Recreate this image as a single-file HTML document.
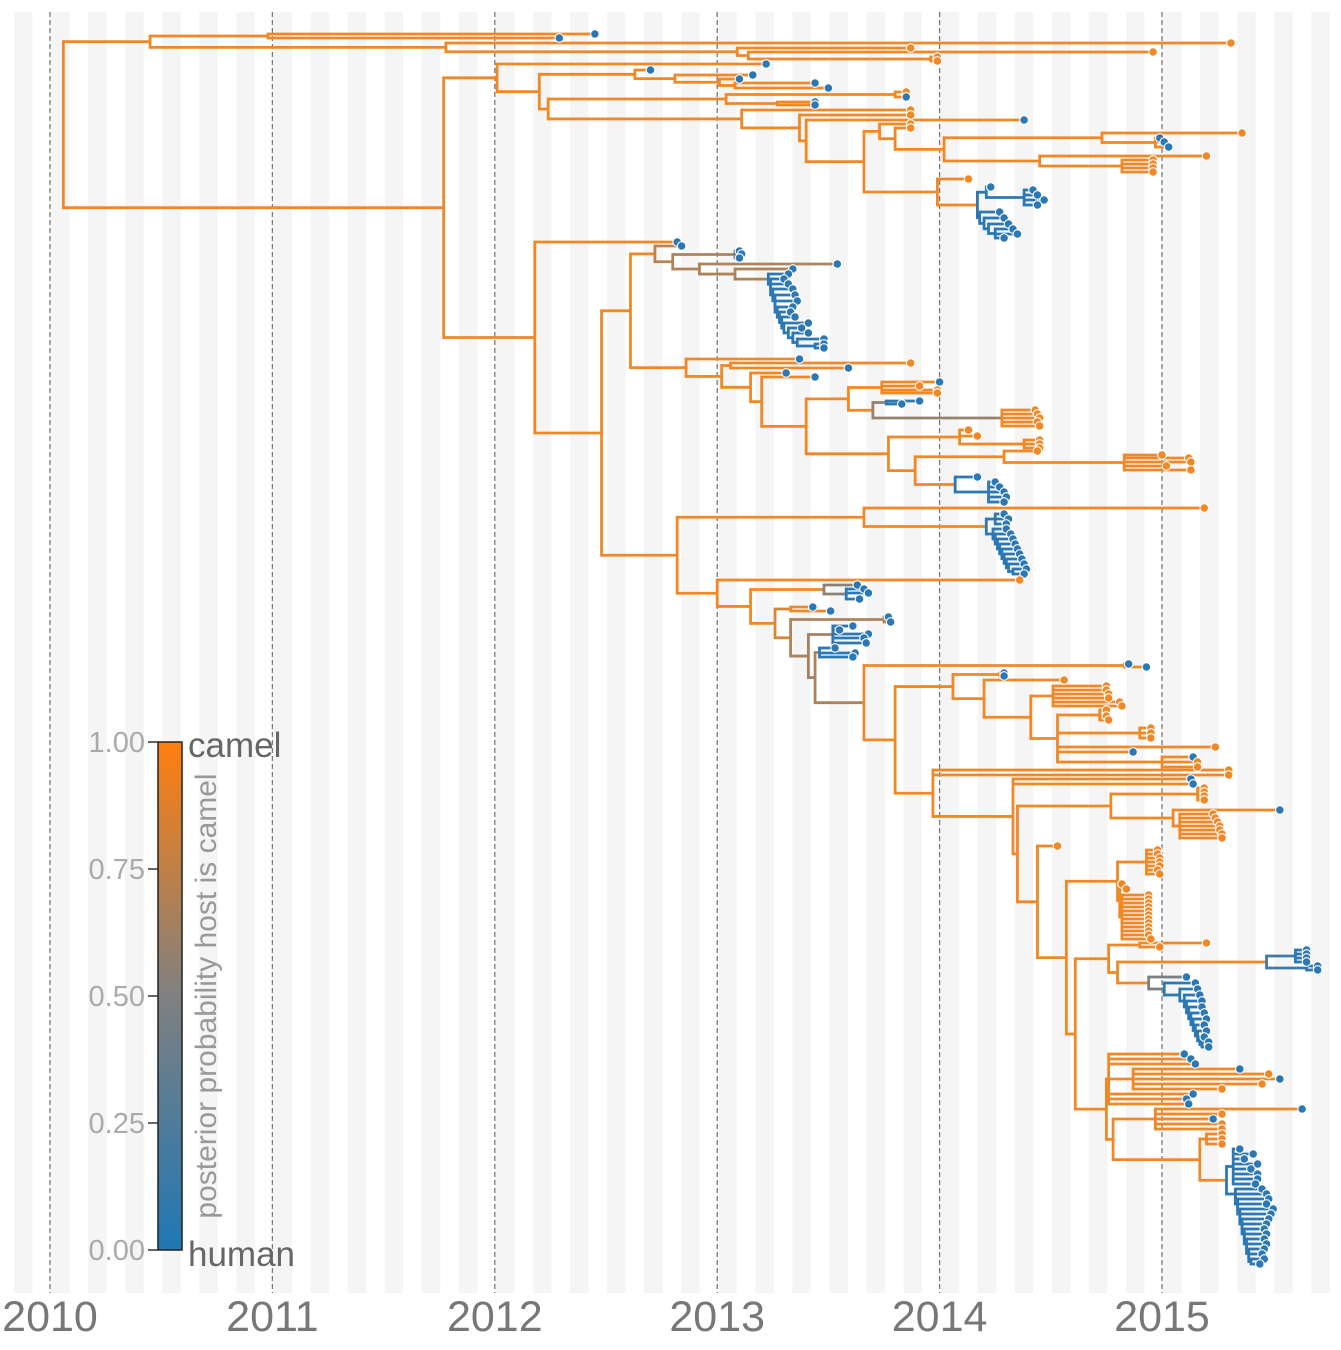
<!DOCTYPE html>
<html><head><meta charset="utf-8">
<style>
html,body{margin:0;padding:0;background:#fff;}
svg{display:block;font-family:"Liberation Sans",sans-serif;}
</style></head>
<body>
<svg id="chart" width="1341" height="1350" viewBox="0 0 1341 1350" xmlns="http://www.w3.org/2000/svg">
<defs>
<linearGradient id="cb" x1="0" y1="1" x2="0" y2="0">
<stop offset="0" stop-color="rgb(31,119,180)"/>
<stop offset="0.5" stop-color="rgb(128,128,128)"/>
<stop offset="1" stop-color="rgb(255,127,14)"/>
</linearGradient>
</defs>
<g id="stripes"></g>
<g id="gridlines"></g>
<g id="branches"></g>
<g id="tips"></g>
<g id="xaxis"></g>
<g id="legend">
<rect x="158" y="742" width="24" height="508" fill="url(#cb)" stroke="#222" stroke-width="1.5"/>
</g>
</svg>
<script>
// ---- data ----
const yearTicks = [2010, 2011, 2012, 2013, 2014, 2015];
const legendTicks = [0, 0.25, 0.5, 0.75, 1];
const legendTickLabels = ["0.00", "0.25", "0.50", "0.75", "1.00"];
// tree: tip = time:hostProb@row ; internal = (children)time:hostProb
const treeNewick =
"(((2012.45:0@0,2012.29:0@0.8)2010.98:1,(2015.31:1@1.8,(2013.87:1@2.8,(2014.96:1@3.6,(2013.99:1@4.6,2013.99:1@5.4)2013.96:1)2013.14:1)2013.09:1)2011.78:1)2010.45:1," +
"((2013.22:0@6,(" +
  "(2012.70:0@7.2,(2013.16:0@8.2,(2013.10:0@9,(2013.44:0@9.8,2013.50:0@10.8)2013.08:1)2013.01:1)2012.81:1)2012.63:1," +
  "(((2013.85:1@11.6,2013.85:0@12.6)2013.80:1,(2013.44:0@13.6,2013.44:0@14.2)2013.27:1)2013.04:1," +
   "(2013.87:1@15.2,(2013.87:1@16.2,(2014.38:0@17.2," +
     "((2013.87:1@18,(2013.87:1@18.8," +
       "((2015.36:1@19.8,(2014.99:0@20.8,2015.01:0@21.6,2015.03:0@22.6)2014.97:1)2014.73:1,(2015.20:1@24.4,(2014.96:1@25.2,2014.96:1@26,2014.96:1@26.8,2014.96:1@27.6)2014.82:1)2014.45:1)2014.02:1" +
     ")2013.80:1)2013.73:1," +
     "(2014.13:1@29,((2014.23:0@30.6,(2014.42:0@31.2,2014.44:0@32.2,2014.47:0@33.2,2014.44:0@34.2)2014.38:0)2014.21:0,(2014.27:0@35.6,(2014.29:0@36.8,(2014.31:0@38,(2014.33:0@39,2014.35:0@40,2014.29:0@40.8)2014.25:0)2014.22:0)2014.20:0)2014.18:0)2014.17:0)2013.99:1" +
     ")2013.66:1" +
   ")2013.40:1)2013.37:1)2013.11:1" +
  ")2012.24:1" +
")2012.20:1)2012.01:1," +
"(2012.82:0@41.6,(" +
  "((2012.84:0@42.4,((2013.10:0@43.4,2013.11:0@44,2013.10:0@44.8)2013.08:0.3,(2013.54:0@46,(2013.34:0@47," +
    "(2013.32:0@48,(2013.30:0@49,(2013.32:0@50,(2013.34:0@51,(2013.35:0@52.2,(2013.36:0@53.4,(2013.34:0@54.6,(2013.33:0@55.6,(2013.35:0@56.6,(2013.41:0@57.8,(2013.38:0@58.8,(2013.41:0@59.8,(2013.48:0@61,(2013.48:0@62,2013.48:0@62.8)2013.44:0)2013.36:0)2013.34:0)2013.32:0)2013.30:0)2013.29:0)2013.28:0)2013.27:0)2013.26:0)2013.26:0)2013.25:0)2013.24:0)2013.24:0)2013.23:0" +
    ")2013.08:0.7)2012.92:0.7)2012.80:0.7)2012.72:0.75," +
   "(2013.37:0@65,((2013.87:1@65.8,2013.59:0@66.8)2013.06:1,(2013.31:0@67.8,(2013.44:0@68.6," +
     "(((2014.00:0@69.6,2013.91:1@70.4,2013.99:1@71.2,2013.99:1@71.8)2013.74:1,((2013.91:0@73.4,2013.83:0@74)2013.76:0,(2014.43:1@75.2,2014.44:1@76,2014.45:1@76.8,2014.44:1@77.6,2014.45:1@78.4)2014.28:1)2013.70:0.6)2013.59:1," +
     "((2014.13:1@79.2,2014.17:1@80.4,(2014.45:1@81.2,2014.45:1@82,2014.45:1@82.8)2014.38:1)2014.09:1,((2014.44:1@83.4,(2015.00:1@84.2,2015.12:1@84.8,2015.13:1@85.6,2015.02:1@86.4,2015.13:1@87.2)2014.83:1)2014.29:1,(2014.17:0@88.6,(2014.25:0@89.6,2014.27:0@90.6,2014.29:0@91.6,2014.30:0@92.6,2014.29:0@93.6)2014.22:0)2014.07:0)2013.89:1)2013.77:1)2013.40:1" +
   ")2013.20:1)2013.15:1)2013.02:1)2012.86:1)2012.61:1," +
  "((2015.19:1@94.8,((2014.29:0@96,2014.31:0@97,2014.30:0@98)2014.25:0,(2014.30:0@99,(2014.32:0@100,(2014.33:0@101,(2014.34:0@102,(2014.35:0@103,(2014.36:0@104,(2014.37:0@105,(2014.38:0@106,(2014.39:0@107,2014.38:0@108)2014.33:0)2014.31:0)2014.30:0)2014.29:0)2014.28:0)2014.27:0)2014.26:0)2014.25:0)2014.24:0)2014.21:0)2013.66:1," +
   "(2014.36:1@109.2,((2013.63:0@110.2,(2013.66:0@111,2013.68:0@111.8,2013.64:0@113)2013.58:0)2013.48:0.55," +
    "((2013.43:0@114.6,2013.51:0@115.4)2013.33:1,((2013.77:0@116.6,2013.78:0@117.6)2013.75:0.7," +
     "((2013.61:0@118.4,2013.55:0@119.2,2013.68:0@120,2013.66:0@120.8,2013.67:0@121.8)2013.52:0," +
      "((2013.53:0@122.8,2013.62:0@123.8,2013.61:0@124.6)2013.46:0," +
       "((2014.85:0@126,2014.93:0@126.6)2014.83:1," +
        "(((2014.29:0@127.8,2014.29:0@128.4)2014.27:1,(2014.56:1@129.2," +
          "((2014.75:1@130.4,2014.75:1@131.2,2014.76:1@132,2014.76:1@132.8,2014.81:1@133.6,2014.82:1@134.4)2014.51:1,((2014.75:1@135.2,2014.75:1@136.4,2014.76:1@137.2)2014.72:1,(2014.95:1@138.8,2014.95:1@139.8,2014.95:1@140.8)2014.90:1,2015.24:1@142.6,2014.87:0@143.6,(2015.14:0@144.6,2015.16:1@145.6,2015.16:1@146.6)2015.00:1)2014.53:1)2014.41:1" +
        ")2014.20:1)2014.06:1," +
        "(2015.30:1@147.2,2015.30:1@148.2,(2015.13:0@149,2015.14:0@150,(" +
          "((2015.19:1@150.8,2015.19:1@151.6,2015.19:1@152.4,2015.19:1@153.2)2015.16:1,(2015.53:0@155.2,(2015.23:1@156,2015.24:1@156.8,2015.25:1@157.6,2015.26:1@158.4,2015.26:1@159.2,2015.27:1@160,2015.27:1@160.8)2015.08:1)2015.05:1)2014.77:1," +
          "(2014.53:1@162.4,(" +
            "((2014.98:1@163.2,2014.98:1@164,2014.99:1@164.8,2014.99:1@165.6,2014.99:1@166.4,2014.98:1@167.2,2014.99:1@168)2014.93:1,(2014.82:1@170,2014.84:1@171,(2014.94:1@172.2,2014.94:1@173,2014.94:1@173.8,2014.94:1@174.6,2014.94:1@175.4,2014.94:1@176.2,2014.94:1@177,2014.94:1@177.8,2014.94:1@178.6,2014.94:1@179.4,2014.94:1@180.2,2014.95:1@181)2014.82:1)2014.81:1)2014.80:1," +
            "(((2015.20:1@181.8,2014.99:1@182.6)2014.90:1,(((2015.65:0@183.2,2015.65:0@184,2015.65:0@184.8,2015.65:0@185.6)2015.60:0,(2015.70:0@186.4,2015.70:0@187.2)2015.65:0)2015.47:0.1," +
              "(2015.11:0@188.6,(2015.15:0@189.8,(2015.16:0@191,(2015.17:0@192.2,(2015.18:0@193.4,(2015.18:0@194.6,(2015.19:0@195.8,(2015.20:0@197,(2015.19:0@198.2,(2015.20:0@199.4,(2015.19:0@200.6,(2015.21:0@201.6,2015.21:0@202.6)2015.18:0)2015.17:0)2015.16:0)2015.15:0)2015.14:0)2015.13:0)2015.12:0)2015.11:0)2015.10:0)2015.08:0)2015.01:0)2014.94:0.45" +
            ")2014.80:1)2014.76:1," +
            "((2015.10:0@204,2015.13:0@205,2015.15:0@206,(2015.35:0@207,2015.48:1@208,2015.53:0@209,2015.45:1@210,2015.27:1@211)2014.87:1,2015.14:0@212,2015.11:0@213,2015.12:0@214)2014.76:1," +
             "((2015.63:0@215,2015.27:1@216,2015.23:0@217,2015.27:1@218,2015.27:1@219)2014.97:1,((2015.27:1@220,2015.27:1@221,2015.27:1@222)2015.20:1," +
              "((2015.35:0@223,2015.41:0@224,2015.37:0@225,2015.43:0@226,2015.40:0@227,2015.43:0@228,2015.43:0@229,2015.42:0@230)2015.32:0,(2015.45:0@231,(2015.47:0@232,(2015.48:0@233,(2015.47:0@234,(2015.50:0@235,(2015.49:0@236,(2015.48:0@237,(2015.47:0@238,(2015.46:0@239,(2015.47:0@240,(2015.46:0@241,(2015.47:0@242,(2015.46:0@243,(2015.45:0@244,(2015.46:0@245,2015.44:0@246)2015.40:0)2015.39:0)2015.39:0)2015.38:0)2015.38:0)2015.37:0)2015.37:0)2015.36:0)2015.36:0)2015.35:0)2015.35:0)2015.34:0)2015.34:0)2015.33:0)2015.33:0)2015.29:0" +
             ")2015.17:1)2014.78:1)2014.75:1)2014.61:1" +
          ")2014.57:1)2014.44:1" +
        ")2014.35:1)2014.33:1)2013.97:1" +
       ")2013.80:1)2013.66:1" +
      ")2013.44:0.7)2013.41:0.65)2013.33:0.7)2013.26:0.9)2013.15:1)2013.00:1)2012.82:1" +
")2012.48:1)2012.18:1)2011.77:1)2010.06:1";

// ---- scales ----
const X0 = 50, PXY = 222.4;
function xScale(t){ return X0 + (t - 2010) * PXY; }
function yScale(r){ return 34 + r * 5; }
function lerp(a,b,f){ return Math.round(a + (b-a)*f); }
function colorOf(p){
  const blue=[44,120,180], gray=[128,128,128], orange=[241,136,38];
  let a,b,f;
  if(p<=0.5){a=blue;b=gray;f=p/0.5;} else {a=gray;b=orange;f=(p-0.5)/0.5;}
  return 'rgb('+lerp(a[0],b[0],f)+','+lerp(a[1],b[1],f)+','+lerp(a[2],b[2],f)+')';
}

// ---- parse ----
function parse(s){
  let i=0;
  function label(){ let st=i; while(i<s.length && !',()'.includes(s[i])) i++; return s.slice(st,i); }
  function node(){
    let n={kids:[]};
    if(s[i]==='('){
      i++;
      n.kids.push(node());
      while(s[i]===','){ i++; n.kids.push(node()); }
      i++;
      const lb=label().split(':'); n.t=+lb[0]; n.p=+lb[1];
    } else {
      const lb=label(); const a=lb.split('@'); const b=a[0].split(':');
      n.t=+b[0]; n.p=+b[1]; n.row=+a[1];
    }
    return n;
  }
  return node();
}
const root = parse(treeNewick);
function layout(n){
  if(n.kids.length){ n.kids.forEach(layout);
    let rs=n.kids.map(k=>k.row); n.row=(Math.min(...rs)+Math.max(...rs))/2; }
}
layout(root);

const NS='http://www.w3.org/2000/svg';
function mk(tag, parent, attrs){ const e=document.createElementNS(NS,tag); for(const k in attrs) e.setAttribute(k,attrs[k]); parent.appendChild(e); return e; }

// stripes
const gS=document.getElementById('stripes');
for(let k=0;k<=35;k++){
  const t0 = 2010 - 36/PXY + k/6;
  const r = mk('rect', gS, {x:xScale(t0), y:12, width:PXY/12, height:1281, fill:'#f5f5f5'});
  
  
}
// gridlines + ticks
const gG=document.getElementById('gridlines'), gX=document.getElementById('xaxis');
yearTicks.forEach(y=>{
  const l=mk('line', gG, {x1:xScale(y), x2:xScale(y), y1:12, y2:1293, stroke:'#777', 'stroke-width':1.3, 'stroke-dasharray':'5,3'});
  
  
  const tx=mk('text', gX, {x:xScale(y), y:1331, 'text-anchor':'middle', 'font-size':43, fill:'#777'});
  tx.textContent=y;
  
  
});

// branches
const gB=document.getElementById('branches'), gT=document.getElementById('tips');
const tipList=[];
function draw(n){
  if(!n.kids.length){ tipList.push(n); return; }
  const x=xScale(n.t);
  const rs=n.kids.map(k=>k.row);
  const v=mk('line', gB, {x1:x, x2:x, y1:yScale(Math.min(...rs))-1.4, y2:yScale(Math.max(...rs))+1.4, stroke:colorOf(n.p), 'stroke-width':2.8});
  
  
  n.kids.forEach(k=>{
    const h=mk('line', gB, {x1:x, x2:xScale(k.t), y1:yScale(k.row), y2:yScale(k.row), stroke:colorOf(n.p), 'stroke-width':2.8});
    
    
    draw(k);
  });
}
draw(root);
tipList.forEach(n=>{
  const c=mk('circle', gT, {cx:xScale(n.t), cy:yScale(n.row), r:4.3, fill:colorOf(n.p), stroke:'#fff', 'stroke-width':1.1});
  
  
});

// legend
const gL=document.getElementById('legend');
legendTicks.forEach((v,i)=>{
  const y=1250 - v*508;
  const tk=mk('line', gL, {x1:148, x2:158, y1:y, y2:y, stroke:'#333', 'stroke-width':1.5});
  
  
  const tx=mk('text', gL, {x:145, y:y+10, 'text-anchor':'end', 'font-size':29, fill:'#aaa'});
  tx.textContent=legendTickLabels[i];
  
  
});
const camel=mk('text', gL, {x:188, y:757, 'font-size':35, fill:'#666'}); camel.textContent='camel';


const human=mk('text', gL, {x:188, y:1266, 'font-size':35, fill:'#666'}); human.textContent='human';


const ttl=mk('text', gL, {x:0, y:0, 'font-size':30, fill:'#999', 'text-anchor':'middle', transform:'translate(216,996) rotate(-90)'});
ttl.textContent='posterior probability host is camel';


</script>
</body></html>
